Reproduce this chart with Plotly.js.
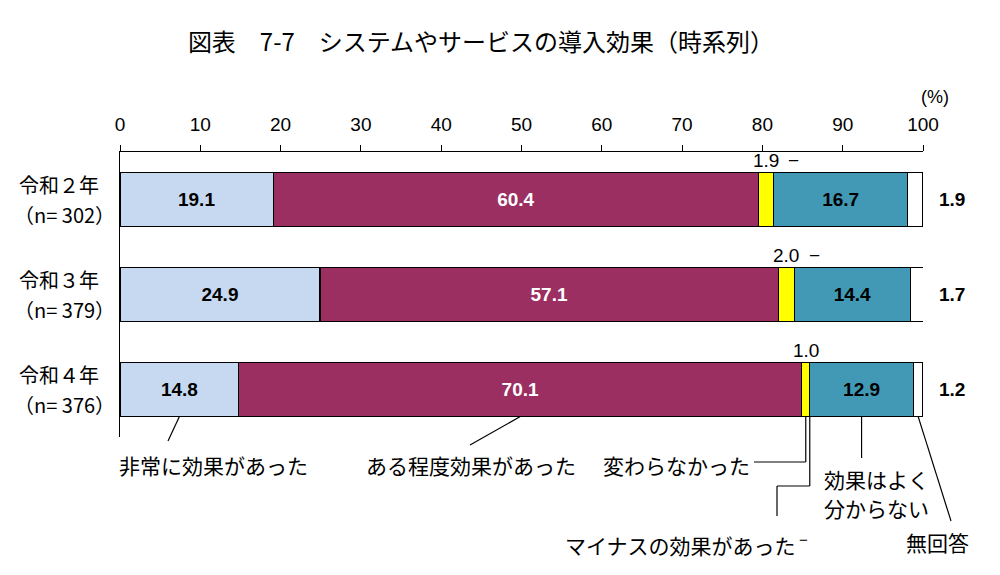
<!DOCTYPE html>
<html>
<head>
<meta charset="utf-8">
<script src="https://cdn.plot.ly/plotly-3.0.1.min.js"></script>
<style>
  body { margin: 0; background: #fff; }
  #chart { width: 1000px; height: 575px; }
</style>
</head>
<body>
<div id="chart"></div>
<script>
// 年度とサンプル数
var years = ['令和２年', '令和３年', '令和４年'];
var nLabels = ['（n= 302）', '（n= 379）', '（n= 376）'];

// 各回答の割合 (%)
var veryEffective = [19.1, 24.9, 14.8];
var someEffect = [60.4, 57.1, 70.1];
var noChange = [1.9, 2.0, 1.0];
var negative = [0, 0, 0];
var unknown = [16.7, 14.4, 12.9];
var noAnswer = [1.9, 1.7, 1.2];

var seriesNames = ['非常に効果があった', 'ある程度効果があった', '変わらなかった',
                   'マイナスの効果があった', '効果はよく分からない', '無回答'];
var colors = ['#c6d9f0', '#9b2f62', '#ffff00', '#ffffff', '#4199b5', '#ffffff'];

var jp = '"Noto Sans CJK JP", "Noto Sans", sans-serif';
var num = '"Liberation Sans", Arial, sans-serif';
var barW = 0.57;

// plot area in pixels: x 120..923, y 152..437
var L = 120, T = 152, PW = 803, PH = 285;
// data -> pixel
const dx = v => L + v / 100 * PW;
const dy = i => T + (i + 0.5) / 3 * PH;
// pixel -> paper
const px = p => (p - L) / PW;
const py = p => 1 - (p - T) / PH;

var yIdx = [0, 1, 2];
var allSeries = [veryEffective, someEffect, noChange, negative, unknown, noAnswer];
var showText = [true, true, false, false, true, false];
var textColor = ['#000', '#fff', '#000', '#000', '#000', '#000'];

var traces = allSeries.map((vals, k) => ({
    type: 'bar',
    orientation: 'h',
    name: seriesNames[k],
    x: vals,
    y: yIdx,
    width: barW,
    marker: {color: colors[k], line: {color: '#000', width: 1.3}},
    text: showText[k] ? vals.map(v => v.toFixed(1)) : null,
    textposition: showText[k] ? 'inside' : 'none',
    insidetextanchor: 'middle',
    textangle: 0,
    textfont: {family: num, size: 19, color: textColor[k], weight: 'bold'},
    hoverinfo: 'x+name'
}));

var annotations = [];
var shapes = [];
var note = (x, y, text, anchor, font) => annotations.push({xref: 'paper', yref: 'paper',
    x: px(x), y: py(y), text: text, xanchor: anchor, yanchor: 'middle', showarrow: false,
    align: 'left', font: font});
var jpFont = {family: jp, size: 21, color: '#000'};
var yearFont = {family: jp, size: 20, color: '#000'};
var numFont = {family: num, size: 19, color: '#000'};
var numBold = {family: num, size: 19, color: '#000', weight: 'bold'};

var barPx = barW / 3 * PH;

// 年度ラベル
years.forEach((y, i) => {
    note(17, dy(i) - 15, y, 'left', yearFont);
    note(12, dy(i) + 15, nLabels[i], 'left', yearFont);
});

// 変わらなかった / マイナス (バー上) と 無回答 (右側)
yIdx.forEach(i => {
    var start = veryEffective[i] + someEffect[i];
    var top = dy(i) - barPx / 2 - 12;
    note(dx(start + noChange[i] / 2), top, noChange[i].toFixed(1), 'center', numFont);
    if (i < 2) {
        note(dx(start + noChange[i] + negative[i]) + 20, top, '−', 'center', numFont);
    }
    note(952, dy(i), noAnswer[i].toFixed(1), 'center', numBold);
});

// 凡例テキスト (令和４年のバーから引き出し線)
var r = 2;
var bottom = dy(r) + barPx / 2;
var c1 = veryEffective[r], c2 = c1 + someEffect[r], c3 = c2 + noChange[r],
    c4 = c3 + negative[r], c5 = c4 + unknown[r], c6 = c5 + noAnswer[r];
var line = (x0, y0, x1, y1) => shapes.push({type: 'line', xref: 'paper', yref: 'paper',
    x0: px(x0), y0: py(y0), x1: px(x1), y1: py(y1), line: {color: '#000', width: 1.2}});

line(dx(c1 / 2), bottom, 168, 441);
note(117, 465, seriesNames[0], 'left', jpFont);

line(dx((c1 + c2) / 2), bottom, 470, 445);
note(364, 465, seriesNames[1], 'left', jpFont);

line(dx((c2 + c3) / 2), bottom, dx((c2 + c3) / 2), 462);
line(dx((c2 + c3) / 2), 462, 754, 462);
note(752, 465, seriesNames[2], 'right', jpFont);

line(dx(c4), bottom, dx(c4), 486);
line(dx(c4), 486, 777, 486);
line(777, 486, 777, 516);
note(563, 545, seriesNames[3], 'left', jpFont);
note(803, 539, '−', 'center', {family: num, size: 15, color: '#000'});

line(dx((c4 + c5) / 2), bottom, dx((c4 + c5) / 2), 458);
note(822, 479, '効果はよく', 'left', jpFont);
note(822, 508, '分からない', 'left', jpFont);

line(dx((c5 + c6) / 2), bottom, 951, 521);
note(904, 542, seriesNames[5], 'left', jpFont);

// (%)
note(935, 97, '(%)', 'center', {family: num, size: 18, color: '#000'});

var layout = {
    width: 1000,
    height: 575,
    margin: {l: L, r: 1000 - L - PW, t: T, b: 575 - T - PH, pad: 0},
    paper_bgcolor: '#fff',
    plot_bgcolor: '#fff',
    barmode: 'stack',
    showlegend: false,
    title: {
        text: '図表　7-7　システムやサービスの導入効果（時系列）',
        x: 0.481, xanchor: 'center', y: 1 - 43 / 575, yanchor: 'middle',
        font: {family: jp, size: 24, color: '#000'}
    },
    xaxis: {
        side: 'top',
        range: [0, 100],
        dtick: 10,
        showgrid: false,
        zeroline: false,
        showline: true,
        linecolor: '#000',
        linewidth: 1.3,
        ticks: 'outside',
        ticklen: 6,
        tickcolor: '#000',
        tickwidth: 1.2,
        ticklabelstandoff: 6,
        tickfont: {family: num, size: 19, color: '#000'},
        fixedrange: true
    },
    yaxis: {
        range: [2.5, -0.5],
        showgrid: false,
        zeroline: false,
        showline: true,
        linecolor: '#000',
        linewidth: 1.3,
        showticklabels: false,
        ticks: '',
        fixedrange: true
    },
    annotations: annotations,
    shapes: shapes
};

Plotly.newPlot('chart', traces, layout, {displayModeBar: false, responsive: false});
</script>
</body>
</html>
